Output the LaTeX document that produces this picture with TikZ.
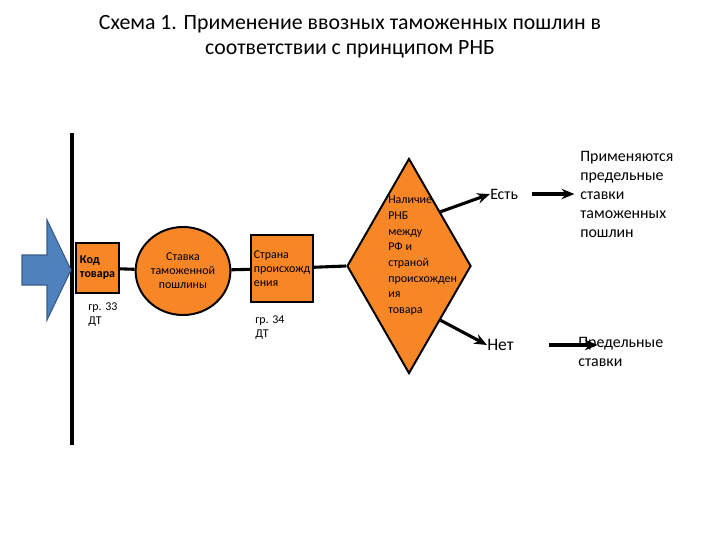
\documentclass[tikz,border=0pt]{standalone}
\usepackage{fontspec}
\setmainfont{Carlito}
\usetikzlibrary{positioning, arrows.meta, shapes.geometric}

\definecolor{boxorange}{RGB}{247,134,38}
\definecolor{arrowblue}{RGB}{79,129,189}
\definecolor{arrowedge}{RGB}{56,93,138}

\begin{document}
\begin{tikzpicture}[
    x=0.025cm, y=-0.025cm,
    box/.style={
      draw, line width=1.4pt, fill=boxorange, inner sep=1pt,
      align=left, font=\fontsize{8.5}{10}\selectfont
    },
    roundbox/.style={box, ellipse, align=center},
    decision/.style={draw, line width=1.4pt, fill=boxorange, diamond,
      inner sep=0pt, minimum width=3.1cm, minimum height=5.375cm},
    link/.style={line width=2.2pt},
    arrow/.style={-{Stealth[length=3.2mm, width=2.6mm]}, line width=2.2pt},
    note/.style={font=\fontsize{8.5}{10.5}\selectfont, align=left, inner sep=0pt},
    label/.style={font=\fontsize{11.3}{13.5}\selectfont, align=left, inner sep=0pt}
]
\useasboundingbox (0,0) rectangle (720,540);

% Title
\node[font=\fontsize{15.5}{17.7}\selectfont, align=center] (title) at (350,37)
  {Схема 1. Применение ввозных таможенных пошлин в\\соответствии с принципом РНБ};

% Border line and input arrow
\draw[line width=2.8pt] (72,133) -- (72,445);
\draw[fill=arrowblue, draw=arrowedge, line width=0.8pt]
  (22,255) -- (47,255) -- (47,220) -- (71,270) -- (47,320) -- (47,285) -- (22,285) -- cycle;

% Chain
\node[box, minimum width=1.075cm, minimum height=1.25cm, font=\fontsize{8.5}{10}\selectfont\bfseries] (code) at (97.5,268) {Код\\товара};
\node[roundbox, minimum width=1.95cm, minimum height=2.2cm] (rate) at (183,271) {Ставка\\таможенной\\пошлины};
\node[box, minimum width=1.55cm, minimum height=1.675cm] (origin) at (282,268.5) {Страна\\происхожд\\ения};
\node[decision] (rnb) at (409,266) {};
\node[note, anchor=north west, font=\fontsize{8.5}{11.1}\selectfont] (cond) at (388,196)
  {Наличие\\РНБ\\между\\РФ и\\страной\\происхожден\\ия\\товара};

% Field notes
\node[note, anchor=north west] (gr33) at (88,302) {гр. 33\\ДТ};
\node[note, anchor=north west] (gr34) at (255,315) {гр. 34\\ДТ};

% Outcomes
\node[label, anchor=west] (yes) at (490,194) {Есть};
\node[label, anchor=west, font=\fontsize{12.5}{14}\selectfont] (no) at (487,345) {Нет};
\node[label, anchor=west] (apply) at (580,194)
  {Применяются\\предельные\\ставки\\таможенных\\пошлин};
\node[label, anchor=north west] (limit) at (578,337) {Предельные\\ставки};

% Links
\draw[link] (code) -- (rate);
\draw[link] (rate) -- (origin);
\draw[link] (origin) -- (rnb.west);
\draw[arrow] (rnb.north east) -- (yes.west);
\draw[arrow] (rnb.south east) -- (no.west);
\draw[arrow, shorten <=10pt] (yes.east) -- ([xshift=-4pt]apply.west);
\draw[arrow] ([xshift=25pt]no.east) -- ([xshift=14pt]limit.west |- no.east);

\end{tikzpicture}
\end{document}
